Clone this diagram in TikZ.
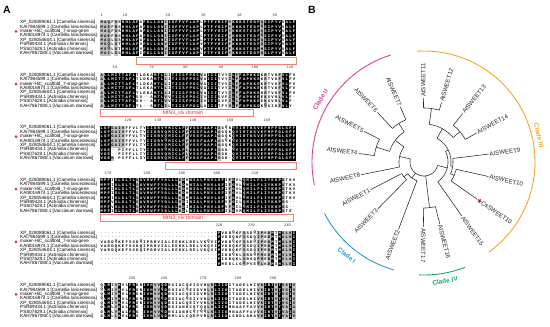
\documentclass[tikz,border=0pt]{standalone}
\usepackage{fontspec}
\setmainfont{Liberation Sans}
\newfontfamily\monof{Liberation Mono}
\usetikzlibrary{shapes.geometric}
\definecolor{salm}{RGB}{240,128,120}
\definecolor{dred}{RGB}{230,50,45}
\definecolor{cII}{RGB}{210,70,155}
\definecolor{cIII}{RGB}{245,166,35}
\definecolor{cI}{RGB}{40,155,215}
\definecolor{cIV}{RGB}{25,168,105}
\definecolor{gcell}{RGB}{192,192,192}
\newcount\cc
\def\xo{100}\def\cw{3.56}\def\rh{4.4}
\def\endres{\endres}
\newcommand\resf{\monof\bfseries\fontsize{3.9}{4}\selectfont}
\newcommand\drawrow[4]{\def\rid{#1-#2}\def\ry{#3}\cc=0 \def\wf{0}\scanres#4\endres}
\def\scanres#1{\ifx#1\endres\let\nxt\relax\else\ifx#1!\def\wf{1}\else\rescell{#1}\advance\cc by 1 \def\wf{0}\fi\let\nxt\scanres\fi\nxt}
\def\rescell#1{%
  \pgfmathsetmacro\xl{\xo+\the\cc*\cw}%
  \ifx#1.%
    \node[gapc] (c\rid-\the\cc) at (\xl+\cw/2,\ry) {.};%
  \else
    \ifnum`#1<`a
      \if\wf1
        \node[resc] (c\rid-\the\cc) at (\xl+\cw/2,\ry) {#1};%
      \else
        \fill[black] (\xl-0.05,\ry-\rh/2-0.05) rectangle (\xl+\cw+0.05,\ry+\rh/2+0.05);%
        \node[resc,text=white] (c\rid-\the\cc) at (\xl+\cw/2,\ry) {#1};%
      \fi
    \else
      \uppercase{\def\ch{#1}}%
      \fill[gcell] (\xl-0.05,\ry-\rh/2-0.05) rectangle (\xl+\cw+0.05,\ry+\rh/2+0.05);%
      \node[resc] (c\rid-\the\cc) at (\xl+\cw/2,\ry) {\ch};%
    \fi
  \fi}
\newcommand\blockrows[9]{%
  \drawrow{#1}{1}{\R+7.6}{#2}\drawrow{#1}{2}{\R+12}{#3}%
  \drawrow{#1}{3}{\R+16.4}{#4}\drawrow{#1}{4}{\R+20.8}{#5}%
  \drawrow{#1}{5}{\R+25.2}{#6}\drawrow{#1}{6}{\R+29.6}{#7}%
  \drawrow{#1}{7}{\R+34}{#8}\drawrow{#1}{8}{\R+38.4}{#9}}
\newcommand\seqlabels[1]{%
  \node[lab] (n#1a) at (20,\R+7.6) {XP\_028089061.1 [Camellia sinensis]};
  \node[lab] (n#1b) at (20,\R+12) {KAI7984599.1 [Camellia lanceoleosa]};
  \node[lab] (n#1c) at (20,\R+16.4) {maker-HiC\_scaffold\_7-snap-gene};
  \node[lab] (n#1d) at (20,\R+20.8) {KAI8016974.1 [Camellia lanceoleosa]};
  \node[lab] (n#1e) at (20,\R+25.2) {XP\_028054604.1 [Camellia sinensis]};
  \node[lab] (n#1f) at (20,\R+29.6) {PSR89434.1 [Actinidia chinensis]};
  \node[lab] (n#1g) at (20,\R+34) {PSS07629.1 [Actinidia chinensis]};
  \node[lab] (n#1h) at (20,\R+38.4) {KAH7867088.1 [Vaccinium darrowii]};
  \node[rdot] (d#1) at (16,\R+16.4) {};}
% tree helpers
\newcommand\pc[3]{\coordinate (#1) at ({424+(#3)*cos(#2)},{162-(#3)*sin(#2)});}
\newcommand\parc[3]{\draw[br] plot[domain=#1:#2,samples=40] ({424+(#3)*cos(\x)},{162-(#3)*sin(\x)});}
\newcommand\inode[6]{\pc{#1a}{#2}{#3}\pc{#1b}{#2}{#4}\draw[br] (#1a) -- (#1b);\parc{#5}{#6}{#4}}
\newcommand\leaf[5]{%
  \pc{#1a}{#2}{#3}\pc{#1b}{#2}{#4}\draw[br] (#1a) -- (#1b);
  \pc{#1t}{#2}{#4+1}%
  \pgfmathtruncatemacro\lft{((#2>91)||(#2<-91))?1:0}%
  \ifnum\lft=1
    \node[leafl,anchor=east,rotate=#2-180] (#1) at (#1t) {#5};
  \else
    \node[leafl,anchor=west,rotate=#2] (#1) at (#1t) {#5};
  \fi}
\begin{document}
\begin{tikzpicture}[x=1pt,y=-1pt,
  resc/.style={inner sep=0pt,font=\resf,text=black},
  gapc/.style={inner sep=0pt,font=\resf,text=black!70},
  lab/.style={anchor=west,inner sep=0pt,font=\fontsize{4.6}{5}\selectfont},
  rdot/.style={circle,fill=dred,inner sep=0pt,minimum size=3pt},
  rulf/.style={inner sep=0pt,font=\monof\fontsize{3.8}{4}\selectfont,text=black!75},
  dom/.style={draw=salm,line width=0.7pt,inner sep=0pt},
  domt/.style={inner sep=0pt,text=dred,font=\fontsize{5.2}{6}\selectfont},
  br/.style={line width=0.55pt,draw=black!85},
  leafl/.style={inner sep=0pt,text=black!85,font=\fontsize{6.1}{7}\selectfont},
  clab/.style={inner sep=0pt,font=\bfseries\fontsize{6.5}{7}\selectfont},
  clarc/.style={line width=0.9pt},
  plab/.style={inner sep=0pt,font=\bfseries\fontsize{10.5}{11}\selectfont}]
\fill[white] (0,0) rectangle (550,327);
\useasboundingbox (0,0) rectangle (550,327);
\node[plab] (pA) at (7,9.5) {A};
\node[plab] (pB) at (312,9.5) {B};
% ---------- block 1
\def\R{15}
\seqlabels{1}
\foreach \n/\x in {1/101.7,10/125,20/168,30/203.3,40/239.3,50/275}
  \node[rulf] (ra\n) at (\x,\R) {\n};
\blockrows{1}%
{m a q !F s !S H H L A F !A F G L L G N i I S F F V F L A P !L P T F Y R I F y K K K S T E G F q S I P Y V !V A L F}%
{m a e !F n !S H H L A F !A F G L L G N i I S F F V F L A P !L P T F Y R I F y K K K S T E G F q S I P Y V !V A L F}%
{m a q !F s !S H H L A F !A F G L L G N i I S F F V F L A P !L P T F Y R I F y K K K S T E G F q S I P Y V !V A L F}%
{m a e !F n !S H H L A F !A F G L L G N i I S F F V F L A P !L P T F Y R I F y K K K S T E G F q S I P Y V !V A L F}%
{m a q !L s !S H H L A F !A F G L L G N i I S F F V F L A P !L P T F Y R I F y K K K S T E G F q S I P Y V !V A L F}%
{m s q !L s !T H H L A F !V F G L L G N v I S F F V F L A P !V P T F Y R I F f K K K S T E G F q S I P Y V !V A L F}%
{m s q !L s !T H H L A F !V F G L L G N v I S F F V F L A P !V P T F Y R I F f K K K S T E G F h S I P Y V !V A L F}%
{m a i !L s !S H H L A F !I F G L L G N i I S F F V F L A P !L P T F Y R I F y K K K S T E G F q S L P Y V !V A L F}
\node[dom,minimum width=160pt,minimum height=7pt] (box1) at (216,\R+45.5) {};
% ---------- block 2
\def\R{67.6}
\seqlabels{2}
\foreach \n/\x in {60/115,70/151.7,80/185.5,90/221,100/255,110/290}
  \node[rulf] (rb\n) at (\x,\R) {\n};
\blockrows{2}%
{a L L M I T T A F L !T !L !D !K !A M T L l !I T I I S F P G C v !A I I I !T !V !Y i L f F A P K K E !K r !T !V !K f V L !F !V}%
{a L L M I T T A F L !T !L !D !K !A M T L l !I T I I S F P G C v !A I I I !T !V !Y i L f F A P K K E !K r !T !V !K f V L !F !V}%
{a L L M I T T A F L !T !L !D !K !A M T L l !I T I I S F P G C v !A I I I !T !V !Y i L f F A P K K E !K r !T !V !K f V L !F !V}%
{a L L M I T T A F L !T !L !E !K !A M T L l !I T I I S F P G C v !A I I I !T !V !Y i L f F A P K K E !K r !T !V !K f V L !F !V}%
{a L L M I T T A F L !T !L !E !K !A M T L l !I T I I S F P G C v !A I I I !T !V !Y i L f F A P K K E !K r !T !V !K f V L !F !V}%
{s L L M I T T A F L !S !V . . !A M T L v !V T I I S F P G C i !V I I I !S !V !F i L l F A P K K E !E k !S !V !R l V L !F .}%
{s L L M I T T A F L !S !V . . !A M T L v !V T I I S F P G C i !V I I I !S !V !F i L l F A P K K E !E k !S !V !R l V L !F .}%
{a L L M I T T A F L !T !L . . !A M T L i !L T I I S F P G C l !A I I I !T !F !Y v L f F A P K K D !K q !S !I !K f V L !Y .}
\node[dom,minimum width=153pt,minimum height=7pt] (box2) at (176.5,\R+45.5) {};
\node[domt] (tx2) at (183,\R+45.5) {MtN3\_slv domain};
% ---------- block 3
\def\R{120.2}
\seqlabels{3}
\foreach \n/\x in {120/128,130/158,140/193,150/230,160/267}
  \node[rulf] (rc\n) at (\x,\R) {\n};
\blockrows{3}%
{L G F g a i v !F !F !V !L !T !Y I I G R V Q M I C L F f V S S F A A P L a !G !Q !K Q V I R T K S V E F M P F G L S F F}%
{L G F g a i v !F !F !V !L !T !Y I I G R V Q M I C L F f V S S F A A P L a !G !Q !K Q V I R T K S V E F M P F G L S F F}%
{L G F g a i v !F !F !V !L !T !Y I I G R V Q M I C L F f V S S F A A P L a !G !Q !K Q V I R T K S V E F M P F G L S F F}%
{L G F g s i v !F !F !V !L !T !Y I I G R V Q M I C L F f V S S F A A P L a !G !Q !K Q V I R T K S V E F M P F G L S F F}%
{L G F g a i v !F !F !V !L !T !Y I I G R V Q M I C L F f V S S F A A P L a !G !Q !K Q V I R T K S V E F M P F G L S F F}%
{V G E . . !P !I !F !F !L !L !T !Y I I G R V Q M I C L F l V S S F A A P L s !G !K . Q V I R T K S V E F M P F G L S F F}%
{V G E . . !P !I !F !F !L !L !T !Y I I G R V Q M I C L F l V S S F A A P L s !G !K . Q V I R T K S V E F M P F G L S F F}%
{V G E n . !P !V !F !F !L !L !S !Y I I G R V Q M I C L F f V S S F A A P L s !G !R . Q V I R T K S V E F M P F G L S F F}
\node[dom,minimum width=131pt,minimum height=7pt] (box3) at (230.5,\R+45.5) {};
% ---------- block 4
\def\R{172.8}
\seqlabels{4}
\foreach \n/\x in {170/108,180/146.7,190/181.7,200/216.7,210/255}
  \node[rulf] (rd\n) at (\x,\R) {\n};
\blockrows{4}%
{M P F !I S L S L T L s A V M W F F Y G L L L k D !M N I A L P N V L G F !I f G !V !L Q M I L F L I Y K K P g !T !K !V}%
{M P F !I S L S L T L s A V M W F F Y G L L L k D !M N I A L P N V L G F !I f G !V !L Q M I L F L I Y K K P g !T !K !V}%
{M P F !I S L S L T L s A V M W F F Y G L L L k D !M N I A L P N V L G F !I f G !V !L Q M I L F L I Y K K P g !T !K !V}%
{M P F !I S L S L T L s A V M W F F Y G L L L k D !M N I A L P N V L G F !I f G !V !L Q M I L F L I Y K K P g !T !K !V}%
{M P F !I S L S L T L s A V M W F F Y G L L L k D !M N I A L P N V L G F !I f G !V !L Q M I L F L I Y K K P g !T !K !V}%
{M P F !V S L S L T L s A V M W F F Y G L L L r D !I N I A L P N V L G F !V f G !I !L Q M I L F L I Y K K P g !S . .}%
{M P F !V S L S L T L s A V M W F F Y G L L L r D !I N I A L P N V L G F !V f G !I !L Q M I L F L I Y K K P g !S . .}%
{M P F !I S L S L T L a A V M W F F Y G L L L k D !L N I A L P N V L G F !I l G !V !M Q M I L F L I Y K K P s !T !E .}
\node[dom,minimum width=193pt,minimum height=7pt] (box4) at (196.5,\R+45.5) {};
\node[domt] (tx4) at (183,\R+45.5) {MtN3\_slv domain};
% ---------- block 5
\def\R{225.4}
\seqlabels{5}
\foreach \n/\x in {220/219,230/251.5,240/287.5}
  \node[rulf] (re\n) at (\x,\R) {\n};
\blockrows{5}%
{.......... .......... .......... ... P !V !K !D !Q !K !F s !S !D !Q i p !R d M !T M a l k I}%
{.......... .......... .......... ... P !V !K !D !Q !K !F s !S !D !Q i p !R d M !T M a l k I}%
{!V!A!R!D!Q!K!E!F!S!S !D!Q!I!P!R!R!V!I!A!L !E!E!K!K!L!R!E!L!V!K !Q!V!I P !V !K !D !Q !K !F s !S !D !Q i p !R d M !T M a l k I}%
{!V!A!R!D!Q!K!E!F!S!S !D!Q!I!P!R!R!V!I!A!L !E!E!K!K!L!R!E!L!V!K !Q!V!I P !V !K !D !Q !K !F s !S !D !Q i p !R d M !T M a l k I}%
{!V!A!R!D!Q!K!E!F!S!S !D!Q!I!P!R!R!V!I!A!L !E!E!K!K!L!R!E!L!V!K !Q!V!I P !V !K !D !Q !K !F s !S !D !Q i p !R d M !T M a l k I}%
{.......... .......... .......... ... P !I !K !D !Q !K !L s !R !G !Q p m !E d M !T M v l k I}%
{.......... .......... .......... ... P !I !K !D !Q !K !L s !R !G !Q p m !E d M !T M v l k I}%
{.......... .......... .......... ... P !M !E !E !L !L !G q !P !V !E q l !K d M !S M v l r I}
% ---------- block 6
\def\R{278}
\seqlabels{6}
\foreach \n/\x in {250/132,260/164,270/203,280/238,290/273}
  \node[rulf] (rf\n) at (\x,\R) {\n};
\blockrows{6}%
{!Q L M !I y K !V !L F R !G !N I V H v v Q D !R !S !I !A !C !Q !E !I !G !V !H l r L I I G !I !T !A !D !E !L !H !I v k I R T v T v s I v}%
{!Q L M !I y K !V !L F R !G !N I V H v v Q D !R !S !I !A !C !Q !E !I !G !V !H l r L I I G !I !T !A !D !E !L !H !I v k I R T v T v s I v}%
{!Q L M !I y K !V !L F R !G !N I V H v v Q D !R !S !I !A !C !Q !E !I !G !V !H l r L I I G !I !T !A !D !E !L !H !I v k I R T v T v s I v}%
{!Q L M !I y K !V !L F R !G !N I V H v v Q D !R !S !I !A !C !Q !E !I !Y !V !H l r L I I G !I !T !A !D !E !L !H !I v k I R T v T v s I v}%
{!Q L M !I y K !V !L F R !G !N I V H v v Q D !R !S !I !A !C !Q !E !I !Y !V !H l r L I I G !I !T !A !D !E !L !H !I v k I R T v T v s I v}%
{!D L M !L y K !A !L F R !G . I V H v v Q D !R !S !I !A !N !R !C !Q !T !Q !Q l r L I I G !M !N !A !A !F !F !A !V v k I R T v T v a I a}%
{!D L M !L y K !A !L F R !G . I V H v v Q D !R !S !I !A !N !R !C !Q !T !Q !Q l r L I I G !M !N !A !A !F !F !A !V v k I R T v T v a I a}%
{!G L M !L l K !V !L F R !S . I V H l v Q D !R !M !L !A !L !C !Q !E !P !V !R l r L I I G !L !S !D !D !L !A !K !A v k I R T v T v a I v}
% ================= tree
\parc{167.25}{345.7}{14}
% Clade II
\inode{C2}{167.25}{14}{25}{143}{191.5}
\inode{N7654}{143}{25}{36}{123.2}{162.75}
\inode{N76}{123.2}{36}{46}{113.2}{133.2}
\inode{N54}{162.75}{36}{50}{152.9}{172.6}
\leaf{L7}{113.2}{46}{60}{AtSWEET7}
\leaf{L6}{133.2}{46}{68}{AtSWEET6}
\leaf{L5}{152.9}{50}{67}{AtSWEET5}
\leaf{L4}{172.6}{50}{66}{AtSWEET4}
\leaf{L8}{191.5}{25}{64}{AtSWEET8}
% Clade I
\inode{C1}{232.85}{14}{20}{216.4}{249.3}
\inode{N13}{216.4}{20}{25}{207.4}{225.4}
\leaf{L1}{207.4}{25}{60}{AtSWEET1}
\leaf{L3}{225.4}{25}{66}{AtSWEET3}
\leaf{L2}{249.3}{20}{72}{AtSWEET2}
% Clade IV
\inode{C4}{-83.1}{14}{46}{-90.5}{-75.7}
\leaf{L17}{-90.5}{46}{65}{AtSWEET17}
\leaf{L16}{-75.7}{46}{64}{AtSWEET16}
% Clade III
\inode{C3}{-14.3}{14}{24}{-55}{26.35}
\leaf{L15}{-55}{24}{66}{AtSWEET15}
\inode{NC}{26.35}{24}{27}{-8.4}{61.1}
\inode{NB}{-8.4}{27}{29}{-23.85}{7}
\leaf{L9}{7}{29}{65}{AtSWEET9}
\inode{N10}{-23.85}{29}{33}{-35}{-12.7}
\leaf{L10}{-12.7}{33}{66}{AtSWEET10}
\pc{LCa}{-35}{33}\pc{LCb}{-35}{65}\draw[br] (LCa) -- (LCb);
\pc{LCs}{-35}{67.8}
\node[star,star points=5,star point ratio=2.4,fill=red,inner sep=0pt,minimum size=5pt,rotate=-35] (Lstar) at (LCs) {};
\pc{LCt}{-35}{70.5}
\node[leafl,anchor=west,rotate=-35] (LCs10) at (LCt) {CsSWEET10};
\inode{NA}{61.1}{27}{38}{40.1}{82.05}
\inode{N1112}{82.05}{38}{54}{73.6}{90.5}
\inode{N1314}{40.1}{38}{47}{28.8}{51.4}
\leaf{L11}{90.5}{54}{64}{AtSWEET11}
\leaf{L12}{73.6}{54}{62}{AtSWEET12}
\leaf{L13}{51.4}{47}{62}{AtSWEET13}
\leaf{L14}{28.8}{47}{60}{AtSWEET14}
% clade arcs
\draw[clarc,draw=cII] plot[domain=107.3:192,samples=60] ({424+112*cos(\x)},{162-112*sin(\x)});
\draw[clarc,draw=cIII] plot[domain=-54.3:93.5,samples=90] ({424+111*cos(\x)},{162-111*sin(\x)});
\draw[clarc,draw=cI] plot[domain=207.4:254.3,samples=40] ({424+112*cos(\x)},{162-112*sin(\x)});
\draw[clarc,draw=cIV] plot[domain=267.5:291.4,samples=30] ({424+113*cos(\x)},{162-113*sin(\x)});
\pc{kII}{149}{121}\node[clab,text=cII,rotate=59] (tII) at (kII) {Clade II};
\pc{kIII}{13}{118}\node[clab,text=cIII,rotate=-77] (tIII) at (kIII) {Clade III};
\pc{kI}{230.4}{121}\node[clab,text=cI,rotate=-39.6] (tI) at (kI) {Clade I};
\pc{kIV}{280}{121}\node[clab,text=cIV,rotate=10] (tIV) at (kIV) {Clade IV};
\end{tikzpicture}
\end{document}
